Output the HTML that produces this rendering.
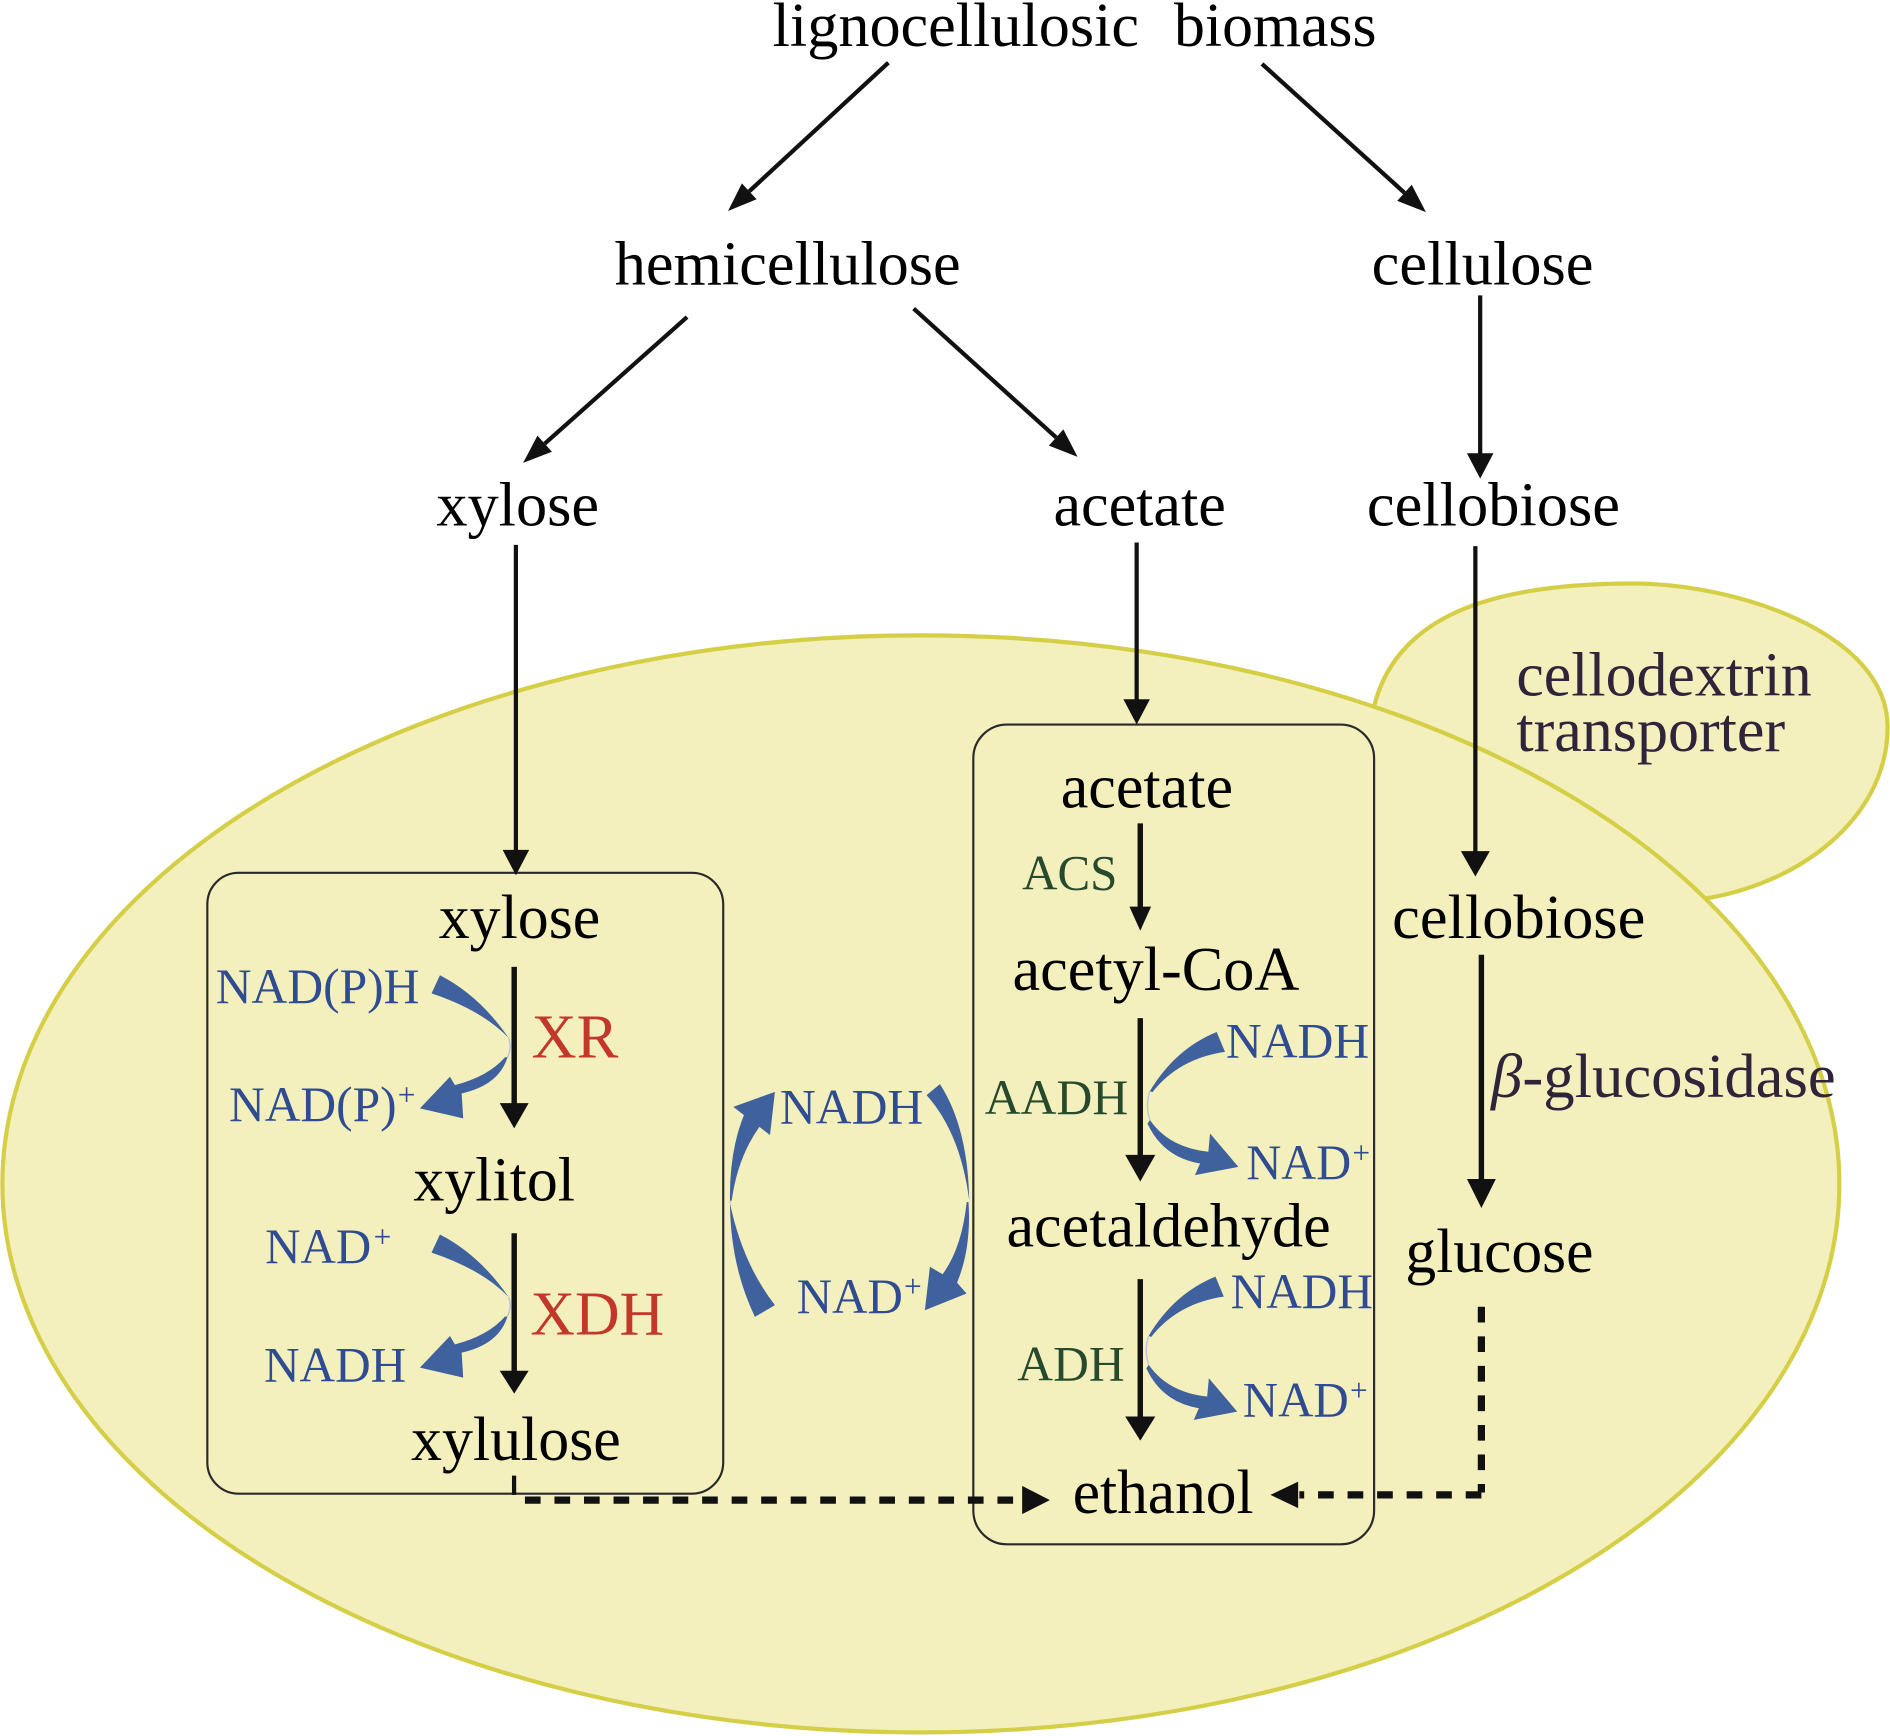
<!DOCTYPE html>
<html><head><meta charset="utf-8"><style>
html,body{margin:0;padding:0;background:#fff;}
svg{display:block;}
text{font-family:"Liberation Serif","DejaVu Serif",serif;}
.k{fill:#000;font-size:52px;}
.b{fill:#2f4c92;font-size:41px;}
.r{fill:#c3372b;font-size:52px;}
.g{fill:#274a2d;font-size:41px;}
.p{fill:#30243a;font-size:52px;}
.sp{fill:#2f4c92;font-size:26px;}
.ba{fill:#3f619d;}
</style></head><body>
<svg width="1890" height="1736" viewBox="0 0 1568 1440" preserveAspectRatio="none" xmlns="http://www.w3.org/2000/svg">
<!-- bud -->
<path d="M1140,586 C1160,505 1250,484 1355,484 C1440,484 1566,525 1566,603 C1566,680 1490,735 1410,746 L1300,760 L1140,650 Z" fill="#f3f0bd" stroke="#d5cf48" stroke-width="3.5"/>
<!-- cell -->
<ellipse cx="764" cy="982" rx="762" ry="455" fill="#f3f0bd" stroke="#d5cf48" stroke-width="3.5"/>
<!-- boxes -->
<rect x="172" y="724" width="428" height="515" rx="26" ry="26" fill="none" stroke="#2a2a2a" stroke-width="1.8"/>
<rect x="807.5" y="601" width="332.5" height="680" rx="28" ry="28" fill="none" stroke="#2a2a2a" stroke-width="1.8"/>

<!-- top diagonal arrows -->
<g stroke="#111" stroke-width="3.5" fill="none">
<line x1="737" y1="52" x2="621.6" y2="158.7"/>
<line x1="1047" y1="53" x2="1165.2" y2="159.9"/>
<line x1="570" y1="263" x2="451.9" y2="368"/>
<line x1="758" y1="256" x2="876.2" y2="362.9"/>
<line x1="1228" y1="245" x2="1228" y2="377"/>
<line x1="428" y1="452" x2="428" y2="706"/>
<line x1="943" y1="450" x2="943" y2="581"/>
<line x1="1224" y1="453" x2="1224" y2="707"/>
</g>
<g fill="#111">
<polygon points="627.7,165.3 615.5,152.1 604,175"/>
<polygon points="1159.2,166.6 1171.2,153.2 1183,176"/>
<polygon points="457.9,374.7 445.9,361.3 434,384"/>
<polygon points="870.2,369.6 882.2,356.2 894,379"/>
<polygon points="1217,376 1239,376 1228,397"/>
<polygon points="417,705 439,705 428,726"/>
<polygon points="932,580 954,580 943,601"/>
<polygon points="1212,706 1236,706 1224,727"/>
</g>

<!-- in-cell arrows -->
<g stroke="#111" stroke-width="4.5" fill="none">
<line x1="426.6" y1="802" x2="426.6" y2="916"/>
<line x1="426.6" y1="1023" x2="426.6" y2="1138"/>
<line x1="946" y1="683" x2="946" y2="753"/>
<line x1="946" y1="844.5" x2="946" y2="959"/>
<line x1="946" y1="1061" x2="946" y2="1176"/>
<line x1="1229" y1="792" x2="1229" y2="979"/>
</g>
<g fill="#111">
<polygon points="414.6,915 438.6,915 426.6,936"/>
<polygon points="414.6,1137 438.6,1137 426.6,1156"/>
<polygon points="937,752 955,752 946,772"/>
<polygon points="933.5,958 958.5,958 946,980"/>
<polygon points="933.5,1175 958.5,1175 946,1195"/>
<polygon points="1217,978 1241,978 1229,1002"/>
</g>

<!-- dashed connectors -->
<line x1="426.5" y1="1224" x2="426.5" y2="1240" stroke="#111" stroke-width="3.5"/>
<g stroke="#111" stroke-width="6" fill="none" stroke-dasharray="13 11.5">
<line x1="435.5" y1="1244.3" x2="848" y2="1244.3"/>
<line x1="1229" y1="1084" x2="1229" y2="1238"/>
<line x1="1229" y1="1240" x2="1078" y2="1240"/>
</g>
<line x1="1229" y1="1084" x2="1229" y2="1088" stroke="#111" stroke-width="5"/>
<polygon points="848,1232.5 848,1256 871,1244.3" fill="#111"/>
<polygon points="1077,1229 1077,1251 1054,1240" fill="#111"/>

<!-- blue cofactor arrows -->
<g class="ba">
<path d="M365,809 Q398,826 422,861 Q400,838 358,824 Z"/>
<path d="M421,877 Q414,900 383,907 L384.3,927.7 L348.4,919.4 L373.3,893.2 L377.4,900.1 Q405,893 419,877 Z"/>
<g transform="translate(0,215)">
<path d="M365,809 Q398,826 422,861 Q400,838 358,824 Z"/>
<path d="M421,877 Q414,900 383,907 L384.3,927.7 L348.4,919.4 L373.3,893.2 L377.4,900.1 Q405,893 419,877 Z"/>
</g>
<path d="M954,905 Q975,870 1009.4,856 L1016.3,872.5 Q978,878 956,906 Z"/>
<path d="M954,929 Q970,952 1002.5,955.4 L1003.9,940.2 L1027.4,967.9 L991.4,974.8 L995.6,965.1 Q965,960 952,932 Z"/>
<g transform="translate(-1,203)">
<path d="M954,905 Q975,870 1009.4,856 L1016.3,872.5 Q978,878 956,906 Z"/>
<path d="M954,929 Q970,952 1002.5,955.4 L1003.9,940.2 L1027.4,967.9 L991.4,974.8 L995.6,965.1 Q965,960 952,932 Z"/>
</g>
<path d="M626.3,1092.3 Q606,1050 605.6,998 Q616,1048 642.9,1082.6 Z"/>
<path d="M605.6,996 Q605,955 617.2,925 L608.4,918.1 L642.9,905.7 L638.8,941.6 L630,934.7 Q612,960 607,996 Z"/>
<path d="M779.8,899.3 Q803,935 804.1,996 Q797,940 768.7,908.4 Z"/>
<path d="M803.5,997 Q806,1035 794,1064 L801.9,1073 L767.3,1086.8 L771.5,1050.8 L782,1057 Q798,1035 802,997 Z"/>
</g>
<g stroke="#b9c5dc" stroke-width="1.2" fill="none">
<path d="M422,861 Q425,869 421,877"/>
<path d="M422,1076 Q425,1084 421,1092"/>
<path d="M954,905 Q950,917 954,929"/>
<path d="M953,1108 Q949,1120 953,1132"/>
<path d="M605.6,996 L605.6,998"/>
</g>

<!-- black labels -->
<text class="k" x="641" y="38" textLength="304" lengthAdjust="spacingAndGlyphs">lignocellulosic</text>
<text class="k" x="974" y="38" textLength="168" lengthAdjust="spacingAndGlyphs">biomass</text>
<text class="k" x="510" y="236" textLength="287" lengthAdjust="spacingAndGlyphs">hemicellulose</text>
<text class="k" x="1138" y="236" textLength="184" lengthAdjust="spacingAndGlyphs">cellulose</text>
<text class="k" x="362" y="436" textLength="135" lengthAdjust="spacingAndGlyphs">xylose</text>
<text class="k" x="874" y="436" textLength="143" lengthAdjust="spacingAndGlyphs">acetate</text>
<text class="k" x="1134" y="436" textLength="210" lengthAdjust="spacingAndGlyphs">cellobiose</text>
<text class="k" x="364" y="778" textLength="134" lengthAdjust="spacingAndGlyphs">xylose</text>
<text class="k" x="343" y="996" textLength="134" lengthAdjust="spacingAndGlyphs">xylitol</text>
<text class="k" x="341" y="1211" textLength="174" lengthAdjust="spacingAndGlyphs">xylulose</text>
<text class="k" x="880" y="670" textLength="143" lengthAdjust="spacingAndGlyphs">acetate</text>
<text class="k" x="840" y="821" textLength="238" lengthAdjust="spacingAndGlyphs">acetyl-CoA</text>
<text class="k" x="835" y="1034" textLength="269" lengthAdjust="spacingAndGlyphs">acetaldehyde</text>
<text class="k" x="890" y="1255" textLength="150" lengthAdjust="spacingAndGlyphs">ethanol</text>
<text class="k" x="1155" y="778" textLength="210" lengthAdjust="spacingAndGlyphs">cellobiose</text>
<text class="k" x="1166" y="1055" textLength="156" lengthAdjust="spacingAndGlyphs">glucose</text>

<!-- purple labels -->
<text class="p" x="1258" y="577" textLength="245" lengthAdjust="spacingAndGlyphs">cellodextrin</text>
<text class="p" x="1258" y="623" textLength="223" lengthAdjust="spacingAndGlyphs">transporter</text>
<text class="p" x="1237" y="910" font-style="italic">β</text>
<text class="p" x="1263" y="910" textLength="260" lengthAdjust="spacingAndGlyphs">-glucosidase</text>

<!-- red -->
<text class="r" x="441" y="877" textLength="72" lengthAdjust="spacingAndGlyphs">XR</text>
<text class="r" x="440" y="1107" textLength="111" lengthAdjust="spacingAndGlyphs">XDH</text>

<!-- green -->
<text class="g" x="848" y="738" textLength="79" lengthAdjust="spacingAndGlyphs">ACS</text>
<text class="g" x="817" y="924" textLength="119" lengthAdjust="spacingAndGlyphs">AADH</text>
<text class="g" x="844" y="1145" textLength="89" lengthAdjust="spacingAndGlyphs">ADH</text>

<!-- blue -->
<text class="b" x="179" y="832" textLength="169" lengthAdjust="spacingAndGlyphs">NAD(P)H</text>
<text class="b" x="190" y="930" textLength="139" lengthAdjust="spacingAndGlyphs">NAD(P)</text>
<text class="sp" x="330" y="917">+</text>
<text class="b" x="220" y="1047.5" textLength="88" lengthAdjust="spacingAndGlyphs">NAD</text>
<text class="sp" x="310" y="1035">+</text>
<text class="b" x="219" y="1146" textLength="118" lengthAdjust="spacingAndGlyphs">NADH</text>
<text class="b" x="647" y="932" textLength="119" lengthAdjust="spacingAndGlyphs">NADH</text>
<text class="b" x="661" y="1089" textLength="88" lengthAdjust="spacingAndGlyphs">NAD</text>
<text class="sp" x="750" y="1076">+</text>
<text class="b" x="1017" y="877" textLength="119" lengthAdjust="spacingAndGlyphs">NADH</text>
<text class="b" x="1034" y="978" textLength="87" lengthAdjust="spacingAndGlyphs">NAD</text>
<text class="sp" x="1122" y="965">+</text>
<text class="b" x="1021" y="1085" textLength="118" lengthAdjust="spacingAndGlyphs">NADH</text>
<text class="b" x="1031" y="1175" textLength="88" lengthAdjust="spacingAndGlyphs">NAD</text>
<text class="sp" x="1120" y="1162">+</text>
</svg>
</body></html>
